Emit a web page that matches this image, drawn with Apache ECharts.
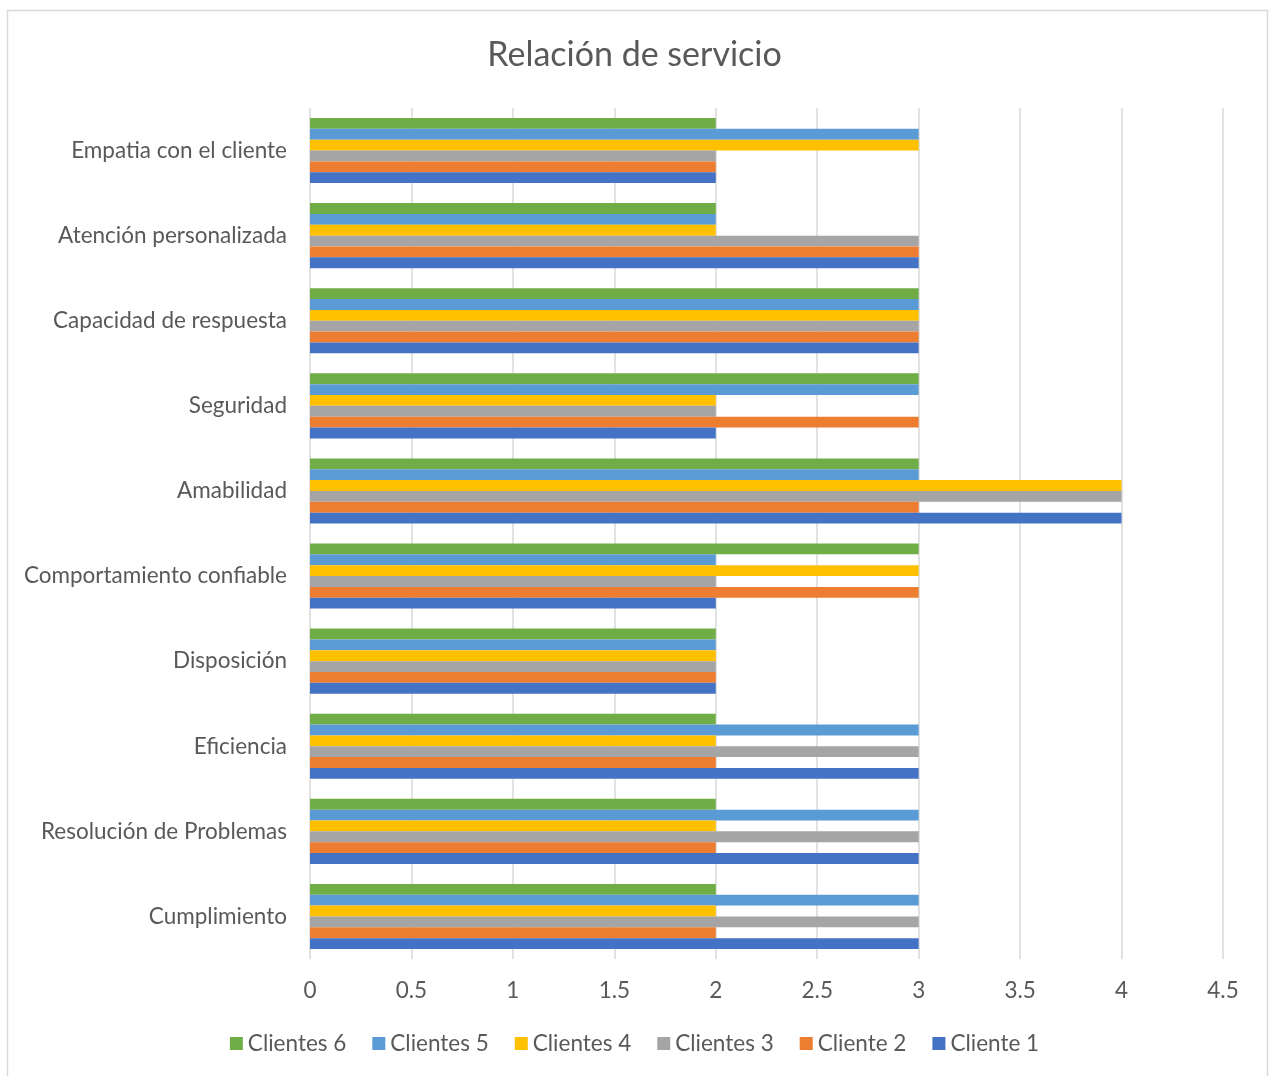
<!DOCTYPE html>
<html>
<head>
<meta charset="utf-8">
<script src="https://cdn.jsdelivr.net/npm/echarts@6/dist/echarts.min.js"></script>
<style>
  html, body { margin: 0; padding: 0; background: #fff; }
  #chart { width: 1269px; height: 1076px; }
</style>
</head>
<body>
<div id="chart"></div>
<script>
// Service dimensions, listed bottom to top as drawn on the category axis
const categories = [
  'Cumplimiento',
  'Resolución de Problemas',
  'Eficiencia',
  'Disposición',
  'Comportamiento confiable',
  'Amabilidad',
  'Seguridad',
  'Capacidad de respuesta',
  'Atención personalizada',
  'Empatia con el cliente'
];

// Scores per client, same order as categories
const cliente1  = [3, 3, 3, 2, 2, 4, 2, 3, 3, 2];
const cliente2  = [2, 2, 2, 2, 3, 3, 3, 3, 3, 2];
const clientes3 = [3, 3, 3, 2, 2, 4, 2, 3, 3, 2];
const clientes4 = [2, 2, 2, 2, 3, 4, 2, 3, 2, 3];
const clientes5 = [3, 3, 3, 2, 2, 3, 3, 3, 2, 3];
const clientes6 = [2, 2, 2, 2, 3, 3, 3, 3, 2, 2];

const xTicks = { min: 0, max: 4.5, interval: 0.5 };

// Listed top bar first within each group (also the legend order)
const seriesDefs = [
  { name: 'Clientes 6', data: clientes6, color: '#70AD47' },
  { name: 'Clientes 5', data: clientes5, color: '#5B9BD5' },
  { name: 'Clientes 4', data: clientes4, color: '#FFC000' },
  { name: 'Clientes 3', data: clientes3, color: '#A5A5A5' },
  { name: 'Cliente 2',  data: cliente2,  color: '#ED7D31' },
  { name: 'Cliente 1',  data: cliente1,  color: '#4472C4' }
];

const FONT = 'Lato, "Open Sans", sans-serif';
const TEXT = '#595959';

const chart = echarts.init(document.getElementById('chart'), null, { renderer: 'canvas' });

chart.setOption({
  backgroundColor: '#ffffff',
  animation: false,
  graphic: [{
    type: 'rect',
    shape: { x: 7.5, y: 10.5, width: 1260, height: 1100 },
    style: { fill: 'none', stroke: '#d9d9d9', lineWidth: 1.5 },
    silent: true,
    z: -1
  }],
  title: {
    text: 'Relación de servicio',
    left: 'center',
    top: 33,
    textStyle: { fontFamily: FONT, fontSize: 34, fontWeight: 'normal', color: TEXT }
  },
  legend: {
    data: seriesDefs.map(s => s.name),
    top: 1027,
    left: 'center',
    icon: 'rect',
    itemWidth: 13,
    itemHeight: 13,
    itemGap: 26,
    textStyle: { fontFamily: FONT, fontSize: 22.5, color: TEXT }
  },
  grid: { left: 310, right: 46, top: 108, bottom: 117, containLabel: false },
  xAxis: {
    type: 'value',
    min: xTicks.min,
    max: xTicks.max,
    interval: xTicks.interval,
    axisLine: { show: false },
    axisTick: { show: false },
    axisLabel: { fontFamily: FONT, fontSize: 22.5, color: TEXT, margin: 20 },
    splitLine: { show: true, lineStyle: { color: '#d9d9d9', width: 1.5 } }
  },
  yAxis: {
    type: 'category',
    data: categories,
    axisLine: { show: false },
    axisTick: { show: false },
    axisLabel: { fontFamily: FONT, fontSize: 22.5, color: TEXT, margin: 23, padding: [3, 0, 0, 0] },
    splitLine: { show: false }
  },
  series: seriesDefs.map(s => ({
    name: s.name,
    type: 'bar',
    data: s.data,
    barGap: '0%',
    barCategoryGap: '23.5%',
    itemStyle: { color: s.color },
    emphasis: { disabled: true }
  }))
});
</script>
</body>
</html>
